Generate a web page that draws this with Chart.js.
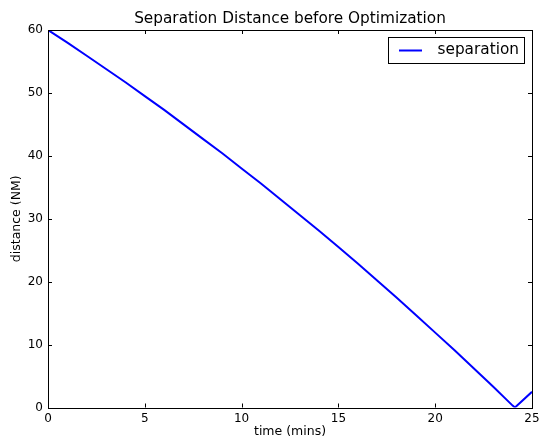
<!DOCTYPE html>
<html>
<head>
<meta charset="utf-8">
<script src="https://cdn.jsdelivr.net/npm/chart.js@4/dist/chart.umd.min.js"></script>
<style>
  html, body { margin: 0; padding: 0; background: #fff; }
  #wrap { width: 541px; height: 439px; }
</style>
</head>
<body>
<div id="wrap"><canvas id="c" width="541" height="439"></canvas></div>
<script>
const chartTitle = "Separation Distance before Optimization";
const seriesName = "separation";
const xLabel = "time (mins)";
const yLabel = "distance (NM)";
const timeMins = [0, 1, 2, 3, 4, 5, 6, 7, 8, 9, 10, 11, 12, 13, 14, 15, 16, 17, 18, 19, 20, 21, 22, 23, 24, 24.12, 25];
const distanceNM = [60, 58.0, 55.9, 53.8, 51.7, 49.5, 47.3, 45.0, 42.7, 40.4, 38.0, 35.6, 33.1, 30.6, 28.1, 25.5, 22.9, 20.2, 17.5, 14.7, 11.9, 9.1, 6.2, 3.3, 0.3, 0, 2.5];
const xTicks = [0, 5, 10, 15, 20, 25];
const yTicks = [0, 10, 20, 30, 40, 50, 60];

const FONT = "'DejaVu Sans', 'Liberation Sans', sans-serif";
Chart.defaults.font.family = FONT;
Chart.defaults.color = '#000';

const points = timeMins.map((t, i) => ({ x: t, y: distanceNM[i] }));

const framePlugin = {
  id: 'mplFrame',
  afterDraw(chart) {
    const ctx = chart.ctx;
    const a = chart.chartArea;
    const xs = chart.scales.x, ys = chart.scales.y;
    ctx.save();
    // frame
    ctx.strokeStyle = '#000';
    ctx.lineWidth = 1;
    ctx.strokeRect(Math.round(a.left) + 0.5, Math.round(a.top) + 0.5,
                   Math.round(a.right - a.left), Math.round(a.bottom - a.top));
    // inward ticks, all four sides
    const tl = 4;
    ctx.beginPath();
    xTicks.forEach(v => {
      const px = Math.round(xs.getPixelForValue(v)) + 0.5;
      ctx.moveTo(px, a.bottom); ctx.lineTo(px, a.bottom - tl);
      ctx.moveTo(px, a.top); ctx.lineTo(px, a.top + tl);
    });
    yTicks.forEach(v => {
      const py = Math.round(ys.getPixelForValue(v)) + 0.5;
      ctx.moveTo(a.left, py); ctx.lineTo(a.left + tl, py);
      ctx.moveTo(a.right, py); ctx.lineTo(a.right - tl, py);
    });
    ctx.stroke();
    // title
    ctx.fillStyle = '#000';
    ctx.font = "15.3px " + FONT;
    ctx.textAlign = 'center';
    ctx.textBaseline = 'alphabetic';
    ctx.fillText(chartTitle, (a.left + a.right) / 2, 22.5);
    // legend
    const ds = chart.data.datasets[0];
    const lx = 388, ly = 37, lw = 136, lh = 26;
    ctx.fillStyle = '#fff';
    ctx.fillRect(lx, ly, lw, lh);
    ctx.strokeStyle = '#000';
    ctx.strokeRect(lx + 0.5, ly + 0.5, lw, lh);
    ctx.strokeStyle = ds.borderColor;
    ctx.lineWidth = ds.borderWidth;
    ctx.beginPath();
    ctx.moveTo(399, 50.5); ctx.lineTo(422, 50.5);
    ctx.stroke();
    ctx.fillStyle = '#000';
    ctx.textAlign = 'left';
    ctx.fillText(ds.label, 437.5, 54);
    ctx.restore();
  }
};

new Chart(document.getElementById('c'), {
  type: 'line',
  data: {
    datasets: [{
      label: seriesName,
      data: points,
      borderColor: '#0000ff',
      backgroundColor: '#0000ff',
      borderWidth: 2,
      pointRadius: 0,
      tension: 0,
      fill: false
    }]
  },
  options: {
    responsive: false,
    animation: false,
    layout: { padding: { left: 0, right: 9, top: 30, bottom: 0 } },
    plugins: { legend: { display: false }, tooltip: { enabled: false }, title: { display: false } },
    scales: {
      x: {
        type: 'linear',
        min: 0, max: 25,
        grid: { display: false, drawTicks: false },
        border: { display: false },
        afterBuildTicks(s) { s.ticks = xTicks.map(v => ({ value: v })); },
        ticks: { font: { size: 12 }, padding: 4, maxRotation: 0, autoSkip: false },
        title: { display: true, text: xLabel, font: { size: 12.5 }, padding: { top: 0, bottom: 0 } },
        afterFit(s) { s.height = 31.5; s.paddingLeft = 0; s.paddingRight = 0; }
      },
      y: {
        type: 'linear',
        min: 0, max: 60,
        grid: { display: false, drawTicks: false },
        border: { display: false },
        afterBuildTicks(s) { s.ticks = yTicks.map(v => ({ value: v })); },
        ticks: { font: { size: 12 }, padding: 5, autoSkip: false },
        title: { display: true, text: yLabel, font: { size: 12.5 }, padding: { top: 9.5, bottom: 0 } },
        afterFit(s) { s.width = 48; s.paddingTop = 0; s.paddingBottom = 0; }
      }
    }
  },
  plugins: [framePlugin]
});
</script>
</body>
</html>
